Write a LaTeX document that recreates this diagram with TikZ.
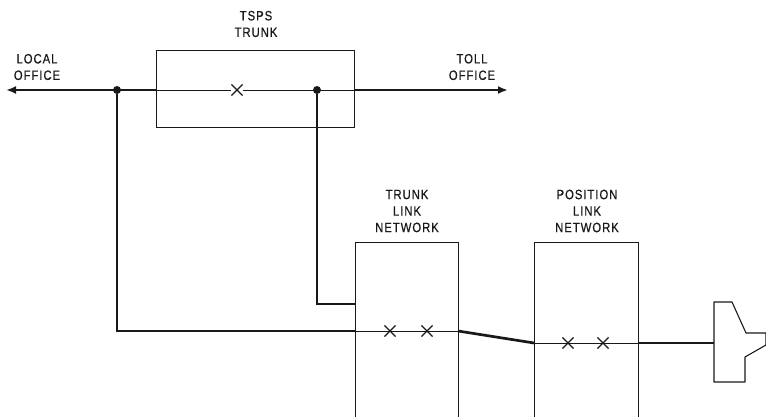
\documentclass[tikz,border=0pt]{standalone}
\usepackage{fontspec}
\setmainfont{Liberation Sans}
\newfontface\lblfont[LetterSpace=7,FakeStretch=0.84,FakeBold=0.6]{Liberation Sans}
\usetikzlibrary{shapes.misc,arrows.meta}
\definecolor{ink}{gray}{0.1}
\tikzset{
  x=1pt,y=-1pt,
  boxnode/.style={draw=ink,line width=1pt,rectangle,inner sep=0pt,anchor=north west},
  thick line/.style={draw=ink,line width=2.7pt},
  thin line/.style={draw=ink,line width=0.9pt},
  jdot/.style={circle,fill=ink,inner sep=0pt,minimum size=8pt},
  xmark/.style={cross out,draw=ink,line width=1.1pt,inner sep=0pt,minimum size=10pt},
  lbl/.style={align=center,text=ink,font=\fontsize{13.5}{16.5}\selectfont\lblfont,inner sep=0pt},
  tip/.style={-{Latex[length=10pt,width=8pt]}}
}
\begin{document}
\begin{tikzpicture}
\useasboundingbox (0,0) rectangle (766,417);
\clip (0,0) rectangle (766,417);
% boxes
\node[boxnode,minimum width=198pt,minimum height=77pt] (tsps) at (156,50) {};
\node[boxnode,minimum width=103pt,minimum height=190pt] (tln) at (355,242) {};
\node[boxnode,minimum width=104pt,minimum height=190pt] (pln) at (534,242) {};
% labels
\node[lbl] (ltsps) at (256,24) {TSPS\\TRUNK};
\node[lbl] (llocal) at (37,67) {LOCAL\\OFFICE};
\node[lbl] (ltoll) at (472,67) {TOLL\\OFFICE};
\node[lbl] (ltln) at (407,211) {TRUNK\\LINK\\NETWORK};
\node[lbl] (lpln) at (587,211) {POSITION\\LINK\\NETWORK};
% named points
\coordinate (lt) at (6,90);
\coordinate (rt) at (508,90);
\coordinate (tsl) at (156,90);
\coordinate (tsr) at (354,90);
\node[jdot] (d1) at (117,90) {};
\node[jdot] (d2) at (317,90) {};
\node[xmark] (x0) at (237,90) {};
\coordinate (tll) at (355,331);
\coordinate (tlr) at (458,331);
\coordinate (tlu) at (355,304);
\coordinate (pll) at (534,343);
\coordinate (plr) at (638,343);
\coordinate (ph) at (714,343);
\coordinate (c1) at (117,331);
\coordinate (c2) at (317,304);
\node[xmark] (x1) at (390,331) {};
\node[xmark] (x2) at (427,331) {};
\node[xmark] (x3) at (568,343) {};
\node[xmark] (x4) at (603,343) {};
% connectors
\draw[thick line,tip] (tsl) -- (lt);
\draw[thick line,tip] (tsr) -- (rt);
\draw[thin line] (tsl) -- (x0) -- (tsr);
\draw[thick line] (d1) -- (c1) -- (tll);
\draw[thick line] (d2) -- (c2) -- (tlu);
\draw[thin line] (tll) -- (tlr);
\draw[thick line] (tlr) -- (pll);
\draw[thin line] (pll) -- (plr);
\draw[thick line] (plr) -- (ph);
% handset
\draw[ink,line width=1.1pt,line join=round] (714,302) -- (732,302) -- (746,333) -- (766,333) -- (766,345) -- (745,357) -- (745,382) -- (714,382) -- cycle;
\end{tikzpicture}
\end{document}
